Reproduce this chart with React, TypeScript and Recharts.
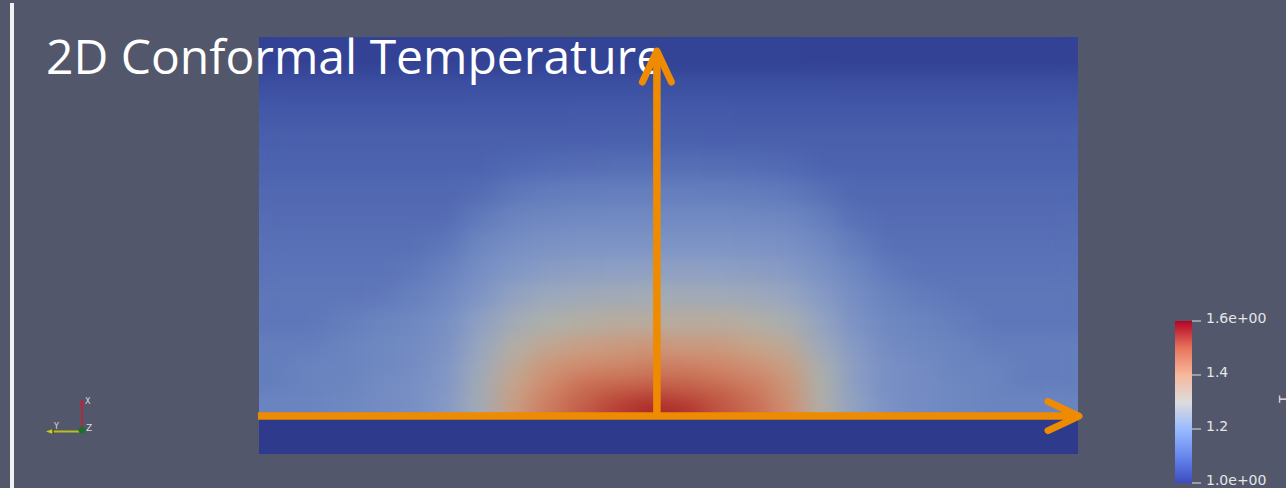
import {
  BarChart,
  Bar,
  Cell,
  XAxis,
  YAxis,
  ComposedChart,
  ReferenceLine,
  ReferenceArea,
} from "recharts";

// mesh: 24 columns, rows given by their edges (0 = heated bottom, 1 = top)
const COLS = 24;
const rowEdges = [0, 0.032, 0.069, 0.111, 0.158, 0.216, 0.285, 0.354, 0.422, 0.491, 0.559, 0.628, 0.697, 0.765, 0.834, 0.902, 1];
const stripDepth = 0.1;

// temperature per cell, bottom row first
const t00 = [1.16, 1.16, 1.17, 1.18, 1.19, 1.22, 1.28, 1.37, 1.43, 1.48, 1.53, 1.58, 1.56, 1.49, 1.45, 1.4, 1.31, 1.24, 1.2, 1.18, 1.17, 1.16, 1.16, 1.16];
const t01 = [1.16, 1.16, 1.17, 1.18, 1.19, 1.22, 1.28, 1.36, 1.42, 1.46, 1.5, 1.52, 1.5, 1.48, 1.44, 1.39, 1.3, 1.24, 1.19, 1.18, 1.17, 1.16, 1.16, 1.16];
const t02 = [1.15, 1.16, 1.16, 1.18, 1.19, 1.21, 1.28, 1.35, 1.4, 1.44, 1.45, 1.46, 1.46, 1.44, 1.42, 1.38, 1.3, 1.23, 1.19, 1.18, 1.17, 1.16, 1.15, 1.15];
const t03 = [1.15, 1.16, 1.16, 1.17, 1.18, 1.21, 1.27, 1.33, 1.38, 1.4, 1.41, 1.42, 1.42, 1.41, 1.39, 1.36, 1.29, 1.23, 1.19, 1.18, 1.16, 1.16, 1.15, 1.15];
const t04 = [1.15, 1.15, 1.16, 1.17, 1.18, 1.2, 1.26, 1.31, 1.34, 1.36, 1.37, 1.38, 1.37, 1.37, 1.35, 1.33, 1.27, 1.22, 1.18, 1.17, 1.16, 1.15, 1.15, 1.15];
const t05 = [1.14, 1.14, 1.15, 1.16, 1.17, 1.19, 1.24, 1.28, 1.3, 1.31, 1.32, 1.32, 1.32, 1.32, 1.31, 1.29, 1.25, 1.2, 1.17, 1.16, 1.15, 1.14, 1.14, 1.14];
const t06 = [1.139, 1.139, 1.139, 1.142, 1.154, 1.173, 1.208, 1.248, 1.266, 1.273, 1.277, 1.278, 1.277, 1.275, 1.269, 1.258, 1.222, 1.184, 1.158, 1.147, 1.139, 1.139, 1.139, 1.139];
const t07 = [1.134, 1.134, 1.134, 1.134, 1.139, 1.157, 1.188, 1.213, 1.229, 1.235, 1.238, 1.239, 1.239, 1.237, 1.232, 1.222, 1.197, 1.167, 1.143, 1.134, 1.134, 1.134, 1.134, 1.134];
const t08 = [1.129, 1.129, 1.129, 1.129, 1.129, 1.138, 1.167, 1.188, 1.197, 1.201, 1.202, 1.203, 1.203, 1.202, 1.199, 1.193, 1.175, 1.147, 1.129, 1.129, 1.129, 1.129, 1.129, 1.129];
const t09 = [1.123, 1.123, 1.123, 1.123, 1.123, 1.123, 1.145, 1.164, 1.172, 1.175, 1.177, 1.177, 1.177, 1.176, 1.173, 1.168, 1.152, 1.128, 1.123, 1.123, 1.123, 1.123, 1.123, 1.123];
const t10 = [1.117, 1.117, 1.117, 1.117, 1.117, 1.117, 1.123, 1.14, 1.147, 1.15, 1.151, 1.151, 1.151, 1.15, 1.148, 1.143, 1.129, 1.117, 1.117, 1.117, 1.117, 1.117, 1.117, 1.117];
const t11 = [1.108, 1.108, 1.108, 1.108, 1.108, 1.108, 1.108, 1.115, 1.121, 1.123, 1.125, 1.125, 1.125, 1.124, 1.122, 1.118, 1.108, 1.108, 1.108, 1.108, 1.108, 1.108, 1.108, 1.108];
const t12 = [1.098, 1.098, 1.098, 1.098, 1.098, 1.098, 1.098, 1.098, 1.098, 1.099, 1.1, 1.1, 1.1, 1.099, 1.098, 1.098, 1.098, 1.098, 1.098, 1.098, 1.098, 1.098, 1.098, 1.098];
const t13 = [1.077, 1.077, 1.077, 1.077, 1.077, 1.077, 1.078, 1.078, 1.079, 1.08, 1.08, 1.08, 1.08, 1.08, 1.079, 1.078, 1.078, 1.077, 1.077, 1.077, 1.077, 1.077, 1.077, 1.077];
const t14 = [1.053, 1.053, 1.053, 1.053, 1.053, 1.053, 1.054, 1.054, 1.055, 1.055, 1.055, 1.055, 1.055, 1.055, 1.055, 1.054, 1.054, 1.053, 1.053, 1.053, 1.053, 1.053, 1.053, 1.053];
const t15 = [1.02, 1.02, 1.02, 1.02, 1.02, 1.02, 1.02, 1.021, 1.021, 1.021, 1.021, 1.021, 1.021, 1.021, 1.021, 1.021, 1.02, 1.02, 1.02, 1.02, 1.02, 1.02, 1.02, 1.02];
const temps = [t00, t01, t02, t03, t04, t05, t06, t07, t08, t09, t10, t11, t12, t13, t14, t15];

// arrows, in mesh units (x in columns, y in field heights)
const vArrow = { x: 11.66, y0: 0, y1: 0.963 };
const hArrow = { y: 0, x0: -0.03, x1: 24.03 };

// colour bar
const cbarData = [{ name: "T", range: [1.0, 1.6] }];
const cbarTicks = [1.0, 1.2, 1.4, 1.6];

// shaded colours as they appear in the render
const fieldStops: [number, string][] = [
  [1.0, "#2d3a8d"],
  [1.06, "#3f53a5"],
  [1.11, "#4d64b0"],
  [1.16, "#6a84c0"],
  [1.21, "#8096c6"],
  [1.26, "#98a6c0"],
  [1.3, "#adb0ab"],
  [1.35, "#c6a48a"],
  [1.4, "#d08c6e"],
  [1.45, "#c86c52"],
  [1.5, "#bd4c3c"],
  [1.55, "#b0302e"],
  [1.6, "#a01a22"],
];
const coolwarm: [number, string][] = [
  [0, "#3b4cc0"],
  [0.167, "#6788ee"],
  [0.333, "#9abbff"],
  [0.5, "#dddcdc"],
  [0.667, "#f7b89c"],
  [0.833, "#e7745b"],
  [1, "#b40426"],
];

const BG = "#53576b";
const ORANGE = "#ef8b00";
const STRIP = "#2e3a8c";
const LABEL = "#e6e6e6";

function hex(c: string) {
  return [1, 3, 5].map((k) => parseInt(c.slice(k, k + 2), 16));
}

function fieldColor(v: number) {
  if (v <= fieldStops[0][0]) return fieldStops[0][1];
  for (let k = 1; k < fieldStops.length; k++) {
    const [v1, c1] = fieldStops[k];
    if (v <= v1) {
      const [v0, c0] = fieldStops[k - 1];
      const f = (v - v0) / (v1 - v0);
      const a = hex(c0);
      const b = hex(c1);
      const m = a.map((x, i) => Math.round(x + (b[i] - x) * f));
      return `rgb(${m[0]},${m[1]},${m[2]})`;
    }
  }
  return fieldStops[fieldStops.length - 1][1];
}

const fieldData = Array.from({ length: COLS }, (_, i) => {
  const d: any = { col: i };
  temps.forEach((_, j) => {
    d[`r${j}`] = rowEdges[j + 1] - rowEdges[j];
  });
  return d;
});

const arrowShape = (props: any) => {
  const { x1, y1, x2, y2 } = props;
  if ([x1, y1, x2, y2].some((n) => typeof n !== "number" || isNaN(n))) return <g />;
  const len = Math.hypot(x2 - x1, y2 - y1) || 1;
  const ux = (x2 - x1) / len;
  const uy = (y2 - y1) / len;
  const back = 31;
  const half = 14.5;
  const pts = [
    [x2 - ux * back - uy * half, y2 - uy * back + ux * half],
    [x2, y2],
    [x2 - ux * back + uy * half, y2 - uy * back - ux * half],
  ]
    .map((p) => p.join(","))
    .join(" ");
  return (
    <g>
      <line x1={x1} y1={y1} x2={x2} y2={y2} stroke={ORANGE} strokeWidth={7.5} />
      <polyline
        points={pts}
        fill="none"
        stroke={ORANGE}
        strokeWidth={7}
        strokeLinecap="round"
        strokeLinejoin="round"
      />
    </g>
  );
};

const cbarLabel = (v: number) =>
  v === 1 || v === 1.6 ? v.toFixed(1) + "e+00" : v.toFixed(1);

const CbarTick = (props: any) => {
  const { x, y, payload } = props;
  return (
    <text x={x} y={y - 3} dy="0.355em" textAnchor="start" fill={LABEL} fontSize={14} fontFamily="DejaVu Sans">
      {cbarLabel(payload.value)}
    </text>
  );
};

export default function App() {
  return (
    <div
      style={{
        position: "absolute",
        left: 0,
        top: 0,
        width: 1286,
        height: 488,
        background: BG,
        overflow: "hidden",
      }}
    >
      <svg width={0} height={0} style={{ position: "absolute" }}>
        <defs>
          <filter id="smooth" x="0" y="0" width="1" height="1" colorInterpolationFilters="sRGB">
            <feGaussianBlur stdDeviation="13 8" />
            <feComponentTransfer>
              <feFuncA type="table" tableValues="1 1" />
            </feComponentTransfer>
          </filter>
          <linearGradient id="coolwarm" x1="0" y1="1" x2="0" y2="0">
            {coolwarm.map(([o, c]) => (
              <stop key={o} offset={o} stopColor={c} />
            ))}
          </linearGradient>
        </defs>
      </svg>

      {/* temperature field */}
      <div style={{ position: "absolute", left: 259, top: 37, width: 819, height: 379, filter: "url(#smooth)" }}>
        <BarChart
          width={819}
          height={379}
          data={fieldData}
          margin={{ top: 0, right: 0, bottom: 0, left: 0 }}
          barCategoryGap={0}
          barGap={0}
        >
          <XAxis dataKey="col" hide />
          <YAxis hide type="number" domain={[0, 1]} allowDataOverflow />
          {temps.map((row, j) => (
            <Bar key={j} dataKey={`r${j}`} stackId="f" isAnimationActive={false}>
              {row.map((v, i) => (
                <Cell key={i} fill={fieldColor(v)} stroke={fieldColor(v)} strokeWidth={1} />
              ))}
            </Bar>
          ))}
        </BarChart>
      </div>

      {/* title, axes triad, frame line */}
      <svg width={1286} height={488} style={{ position: "absolute", left: 0, top: 0 }}>
        <rect x={10} y={3} width={4} height={485} fill="#f2f2f2" />
        <text x={46} y={74} fill="#ffffff" fontSize={48} fontFamily="'Open Sans', 'Noto Sans', sans-serif">
          2D Conformal Temperature
        </text>
        <line x1={82} y1={403} x2={82} y2={428} stroke="#b02a3c" strokeWidth={2} />
        <polygon points="79.5,405 84.5,405 82,399" fill="#c0203a" />
        <text x={85} y={404} fill="#dcdcdc" fontSize={8} fontFamily="DejaVu Sans">X</text>
        <line x1={52} y1={431.5} x2={81} y2={431.5} stroke="#b8c020" strokeWidth={2} />
        <polygon points="46,431.5 53,429 53,434" fill="#c8d020" />
        <line x1={53} y1={429} x2={53} y2={434} stroke="#222" strokeWidth={1} />
        <text x={54} y={429} fill="#dcdcdc" fontSize={8} fontFamily="DejaVu Sans">Y</text>
        <circle cx={82} cy={430} r={3.5} fill="#1f6e2a" />
        <text x={86} y={431} fill="#dcdcdc" fontSize={9} fontFamily="DejaVu Sans">Z</text>
        <text
          transform="translate(1288,399) rotate(-90)"
          textAnchor="middle"
          fill={LABEL}
          fontSize={12}
          fontFamily="DejaVu Sans"
        >
          T
        </text>
      </svg>

      {/* bottom strip and the two orange axes arrows */}
      <div style={{ position: "absolute", left: 0, top: 0 }}>
        <ComposedChart
          width={1286}
          height={488}
          data={fieldData}
          margin={{ top: 37, right: 208, bottom: 34, left: 259 }}
        >
          <XAxis xAxisId="pos" dataKey="col" type="number" domain={[0, COLS]} hide allowDataOverflow />
          <YAxis type="number" domain={[-stripDepth, 1]} hide allowDataOverflow />
          <ReferenceArea
            xAxisId="pos"
            x1={0}
            x2={COLS}
            y1={-stripDepth}
            y2={0}
            fill={STRIP}
            fillOpacity={1}
            stroke="none"
            ifOverflow="visible"
          />
          <ReferenceLine
            xAxisId="pos"
            segment={[
              { x: hArrow.x0, y: hArrow.y },
              { x: hArrow.x1, y: hArrow.y },
            ]}
            ifOverflow="visible"
            shape={arrowShape}
          />
          <ReferenceLine
            xAxisId="pos"
            segment={[
              { x: vArrow.x, y: vArrow.y0 },
              { x: vArrow.x, y: vArrow.y1 },
            ]}
            ifOverflow="visible"
            shape={arrowShape}
          />
        </ComposedChart>
      </div>

      {/* colour legend */}
      <div style={{ position: "absolute", left: 1175, top: 311 }}>
        <BarChart
          width={111}
          height={182}
          data={cbarData}
          margin={{ top: 10, right: 0, bottom: 10, left: 0 }}
          barCategoryGap={0}
        >
          <XAxis dataKey="name" hide />
          <YAxis
            orientation="right"
            type="number"
            domain={[1.0, 1.6]}
            ticks={cbarTicks}
            interval={0}
            width={94}
            axisLine={false}
            tickSize={9}
            tickMargin={5}
            tickLine={{ stroke: "#e0e0e0" }}
            tick={<CbarTick />}
          />
          <Bar dataKey="range" fill="url(#coolwarm)" isAnimationActive={false} />
        </BarChart>
      </div>
    </div>
  );
}
